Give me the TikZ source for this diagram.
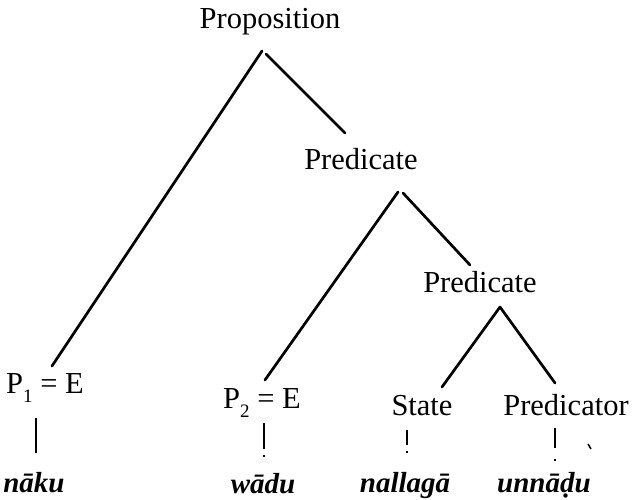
\documentclass[tikz,border=0pt]{standalone}
\usepackage{fontspec}
\setmainfont{Liberation Serif}
\usetikzlibrary{calc}
\tikzset{
  lbl/.style={anchor=base, inner sep=0pt, font=\fontsize{30.5}{34}\selectfont},
  wrd/.style={anchor=base, inner sep=0pt, font=\fontsize{29}{32}\selectfont\bfseries\itshape},
  branch/.style={line width=2.7pt, line cap=round},
  stem/.style={line width=2.4pt}
}
\newcommand{\subnum}[1]{\raisebox{-0.3em}{\fontsize{19}{19}\selectfont #1}}
\begin{document}
\begin{tikzpicture}[x=1pt,y=-1pt]
\useasboundingbox (0,0) rectangle (633,500);
% labels
\node[lbl] (prop) at (270,29) {Proposition};
\node[lbl] (pred1) at (361,170) {Predicate};
\node[lbl] (pred2) at (480,293) {Predicate};
\node[lbl] (p1) at (45,393) {P\subnum{1} = E};
\node[lbl] (p2) at (262,408) {P\subnum{2} = E};
\node[lbl] (state) at (422,415) {State};
\node[lbl] (predr) at (566,415) {Predicator};
% words
\node[wrd] (naku) at (34,492) {nāku};
\node[wrd] (wadu) at (263,493) {wādu};
\node[wrd] (nallaga) at (405,492) {nallagā};
\node[wrd] (unnadu) at (544,492) {unnā\d{d}u};
% branches
\draw[branch] ($(prop.base)+(-8,22)$) -- ($(p1.base)+(7,-27)$);
\draw[branch] ($(prop.base)+(-4,25)$) -- ($(pred1.base)+(-16,-37)$);
\draw[branch] ($(pred1.base)+(37,22)$) -- ($(p2.base)+(3,-28)$);
\draw[branch] ($(pred1.base)+(42,23)$) -- ($(pred2.base)+(-10,-28)$);
\draw[branch] ($(pred2.base)+(20,14)$) -- ($(state.base)+(20,-28)$);
\draw[branch] ($(pred2.base)+(20,14)$) -- ($(predr.base)+(-11,-32)$);
% stems
\draw[stem] ($(p1.base)+(-9,25)$) -- ($(naku.base)+(2,-39)$);
\draw[stem, dash pattern=on 26pt off 6pt on 2pt] ($(p2.base)+(2,15)$) -- ($(wadu.base)+(1,-36)$);
\draw[stem, dash pattern=on 15pt off 6pt on 2pt] ($(state.base)+(-15,15)$) -- ($(nallaga.base)+(2,-38)$);
\draw[stem, dash pattern=on 20pt off 11pt on 2pt] ($(predr.base)+(-11,13)$) -- ($(unnadu.base)+(11,-31)$);
% stray mark
\draw[line width=1.5pt] ($(predr.base)+(22,29)$) -- ($(predr.base)+(25,34)$);
\end{tikzpicture}
\end{document}
